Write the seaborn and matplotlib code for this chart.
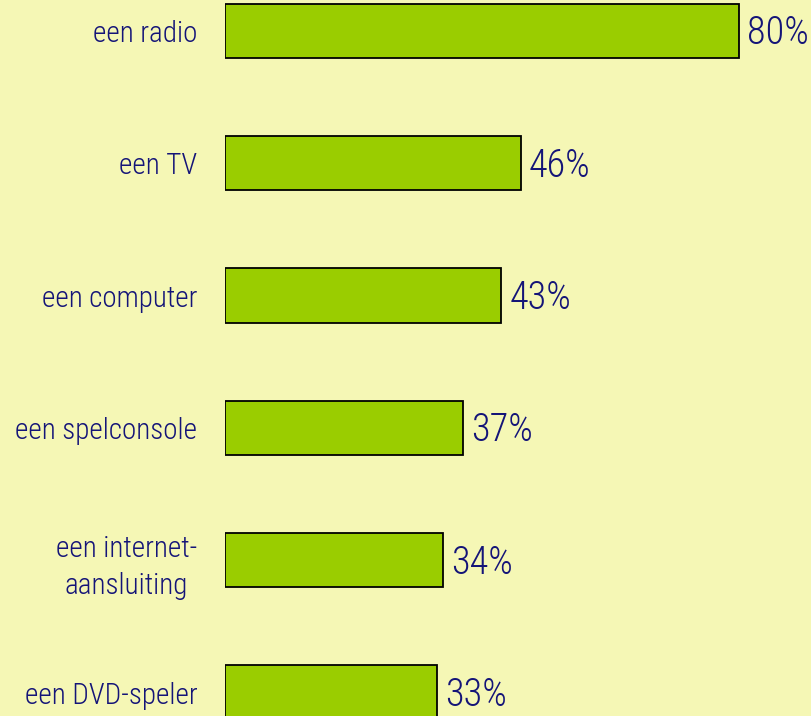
import pandas as pd
import numpy as np
import matplotlib.pyplot as plt
import seaborn as sns

categories = ["een radio", "een TV", "een computer", "een spelconsole",
              "een internet-\naansluiting", "een DVD-speler"]
values = [80, 46, 43, 37, 34, 33]

BG = "#F5F7B5"
BAR = "#9ACD00"
TXT = "#141478"

df = pd.DataFrame({"item": categories, "pct": values})

sns.set_theme(style="white")
plt.rcParams["font.family"] = ["Roboto Condensed", "DejaVu Sans"]
plt.rcParams["font.weight"] = 300

fig = plt.figure(figsize=(8.12, 7.16), dpi=100, facecolor=BG)
ax = fig.add_axes([225 / 812, 0, 1 - 225 / 812, 1])
ax.set_facecolor(BG)

sns.barplot(data=df, x="pct", y="item", orient="h", color=BAR,
            edgecolor="black", linewidth=1.3, width=0.41, saturation=1, ax=ax)

px = 514 / 80  # pixels per percent
ax.set_xlim(0, 587 / px)
ax.set_ylim((716 - 31) / 132.3, -31 / 132.3)

for i, v in enumerate(values):
    ax.text(v + 8 / px, i + 0.02, f"{v}%", va="center", ha="left",
            fontsize=27.5, color=TXT, fontweight=300)

ax.set_xlabel("")
ax.set_ylabel("")
ax.set_xticks([])
ax.tick_params(axis="y", length=0, pad=20, labelsize=21, labelcolor=TXT)
for lab in ax.get_yticklabels():
    lab.set_multialignment("center")
    lab.set_linespacing(1.4)
    lab.set_fontweight(300)
for s in ax.spines.values():
    s.set_visible(False)

fig.savefig("out.png", dpi=100, facecolor=BG)
